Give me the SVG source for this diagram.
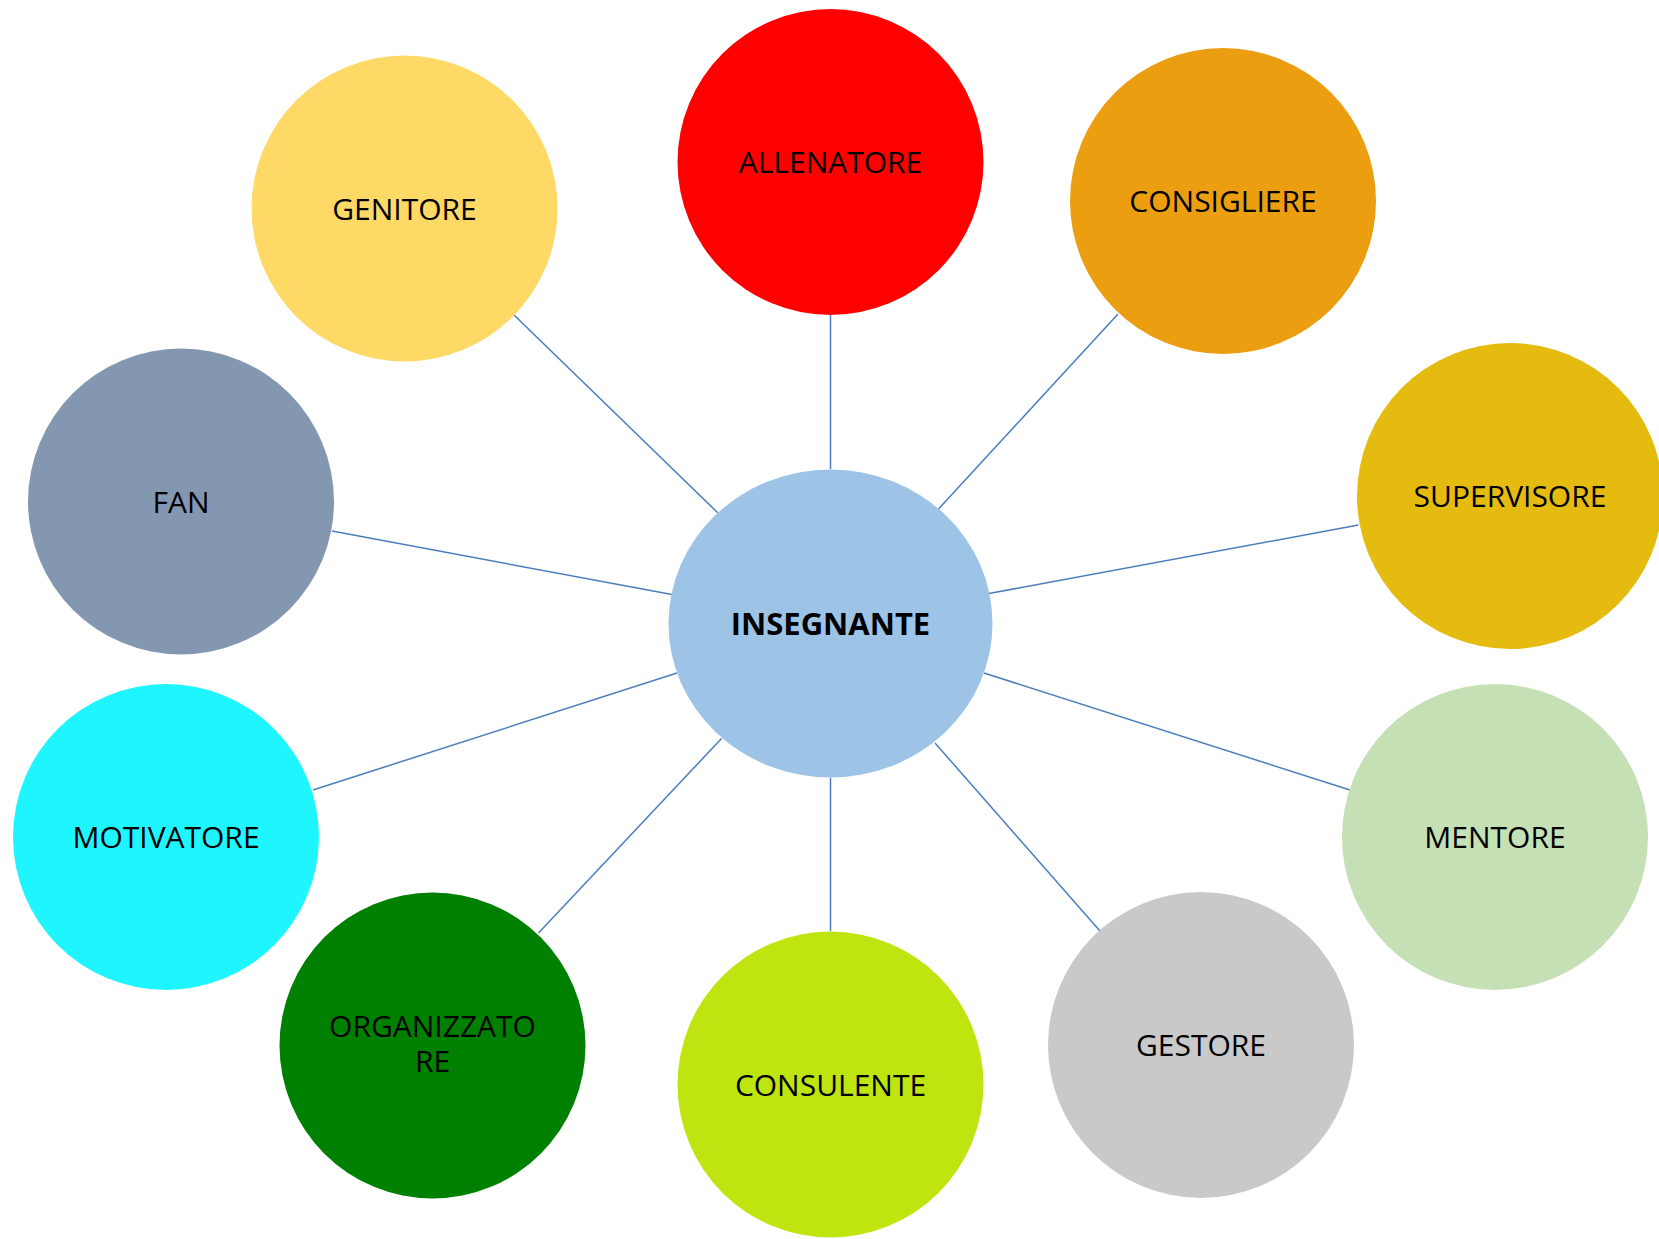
<svg xmlns="http://www.w3.org/2000/svg" width="1659" height="1239" viewBox="0 0 1659 1239">
<style>
.lbl{font-family:"Open Sans","Liberation Sans",sans-serif;font-size:30px;fill:#000;text-anchor:middle}
.main{font-family:"Open Sans","Liberation Sans",sans-serif;font-size:31px;font-weight:bold;fill:#000;text-anchor:middle}
.conn line{stroke:#4a7ebb;stroke-width:1.5}
</style>
<rect width="1659" height="1239" fill="#fff"/>
<g id="connectors" class="conn">
<line x1="514" y1="315" x2="718" y2="513"/>
<line x1="830.5" y1="315" x2="830.5" y2="469"/>
<line x1="1118" y1="314" x2="938.5" y2="509"/>
<line x1="1358.5" y1="525" x2="989" y2="593.5"/>
<line x1="332" y1="531" x2="672" y2="594.6"/>
<line x1="313" y1="790" x2="677" y2="673"/>
<line x1="538.5" y1="933" x2="721.5" y2="738.5"/>
<line x1="830.5" y1="778" x2="830.5" y2="931"/>
<line x1="935" y1="743" x2="1100" y2="931"/>
<line x1="984" y1="673" x2="1350" y2="790"/>
</g>
<g id="insegnante"><ellipse cx="830.5" cy="623.5" rx="162" ry="154" fill="#9dc3e6"/><text class="main" x="830.5" y="634.5">INSEGNANTE</text></g>
<g id="allenatore"><circle cx="830.5" cy="162" r="153" fill="#ff0000"/><text class="lbl" x="830.5" y="173">ALLENATORE</text></g>
<g id="consigliere"><circle cx="1223" cy="201" r="153" fill="#eb9e10"/><text class="lbl" x="1223" y="212">CONSIGLIERE</text></g>
<g id="genitore"><circle cx="404.5" cy="208.5" r="153" fill="#ffd966"/><text class="lbl" x="404.5" y="219.5">GENITORE</text></g>
<g id="supervisore"><circle cx="1510" cy="496" r="153" fill="#e5bb10"/><text class="lbl" x="1510" y="507">SUPERVISORE</text></g>
<g id="fan"><circle cx="181" cy="501.5" r="153" fill="#8497b0"/><text class="lbl" x="181" y="512.5">FAN</text></g>
<g id="motivatore"><circle cx="166" cy="837" r="153" fill="#1ef5ff"/><text class="lbl" x="166" y="848">MOTIVATORE</text></g>
<g id="mentore"><circle cx="1495" cy="837" r="153" fill="#c5e0b4"/><text class="lbl" x="1495" y="848">MENTORE</text></g>
<g id="organizzatore"><circle cx="432.5" cy="1045.5" r="153" fill="#008000"/><text class="lbl" x="432.5" y="1036.5">ORGANIZZATO</text><text class="lbl" x="432.5" y="1072">RE</text></g>
<g id="consulente"><circle cx="830.5" cy="1084.5" r="153" fill="#bfe510"/><text class="lbl" x="830.5" y="1095.5">CONSULENTE</text></g>
<g id="gestore"><circle cx="1201" cy="1045" r="153" fill="#c9c9c9"/><text class="lbl" x="1201" y="1056">GESTORE</text></g>
</svg>
